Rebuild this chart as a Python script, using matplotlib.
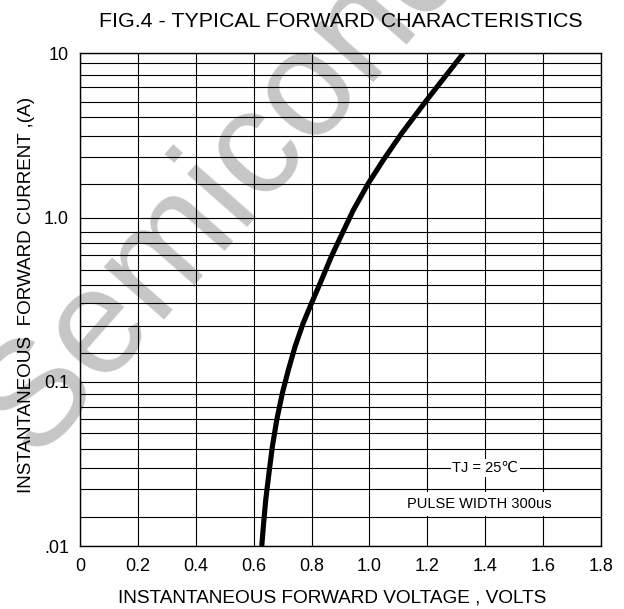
import numpy as np
import matplotlib
matplotlib.use("Agg")
import matplotlib.pyplot as plt
from matplotlib.ticker import NullFormatter

plt.rcParams['font.family'] = ['Liberation Sans', 'DejaVu Sans']

# forward voltage (V) vs instantaneous current (A)
vf = [0.628, 0.6334, 0.6417, 0.6528, 0.6645, 0.6797, 0.699, 0.7198, 0.7429, 0.7710,
      0.8020, 0.8345, 0.8680, 0.9035, 0.9444, 0.9962, 1.048, 1.1116, 1.198, 1.3245]
i_f = [0.010, 0.0131, 0.0191, 0.0277, 0.0402, 0.0585, 0.0851, 0.1179, 0.1635, 0.227,
       0.307, 0.4166, 0.577, 0.783, 1.11, 1.616, 2.24, 3.26, 5.19, 10.0]

x_ticks = [0, 0.2, 0.4, 0.6, 0.8, 1.0, 1.2, 1.4, 1.6, 1.8]
x_labels = ['0', '0.2', '0.4', '0.6', '0.8', '1.0', '1.2', '1.4', '1.6', '1.8']
y_ticks = [0.01, 0.1, 1, 10]
y_labels = ['.01', '0.1', '1.0', '10']
# the printed grid is not a true log grid, so keep its lines as drawn
y_grid = [0.0151, 0.0222, 0.0300, 0.0390, 0.0485, 0.0593, 0.0699, 0.0839,
          0.15, 0.22, 0.30, 0.39, 0.48, 0.59, 0.70, 0.82,
          1.59, 2.34, 3.13, 4.11, 5.07, 6.27, 7.38, 8.69]

fig = plt.figure(figsize=(6.24, 6.09), dpi=100)
ax = fig.add_axes([0.1282, 0.1034, 0.8349, 0.8091])
ax.set_facecolor('none')

# watermark behind the grid
fig.text(34 / 624, 1 - 459 / 609, 'Semiconductor', rotation=48.6,
         rotation_mode='anchor', ha='left', va='baseline',
         fontsize=108, color='#c6c6c6', zorder=-1)

ax.plot(vf, i_f, color='black', lw=3.7, solid_capstyle='butt',
        solid_joinstyle='round', zorder=5)

ax.set_yscale('log')
ax.set_xlim(0, 1.8)
ax.set_ylim(0.01, 10)
ax.set_xticks(x_ticks, x_labels)
ax.set_yticks(y_ticks, y_labels)
ax.set_yticks(y_grid, minor=True)
ax.yaxis.set_minor_formatter(NullFormatter())
ax.tick_params(which='both', length=0)
ax.tick_params(axis='x', labelsize=13, pad=8.5)
ax.tick_params(axis='y', labelsize=13, pad=8)
ax.grid(which='both', color='black', lw=0.8)
for s in ax.spines.values():
    s.set_linewidth(1.0)

ax.set_title('FIG.4 - TYPICAL FORWARD CHARACTERISTICS', fontsize=15.4, pad=19)
ax.set_xlabel('INSTANTANEOUS FORWARD VOLTAGE , VOLTS', fontsize=13.7)
ax.xaxis.set_label_coords(0.4837, -0.089)
ax.set_ylabel('INSTANTANEOUS  FORWARD CURRENT ,(A)', fontsize=13.6)
ax.yaxis.set_label_coords(-0.086, 0.509)

ax.text(1.4, 0.0299, 'TJ = 25\u2103', ha='center', va='center', fontsize=10.5,
        zorder=6, bbox=dict(facecolor='white', edgecolor='none', boxstyle='square,pad=0.12'))
ax.text(1.381, 0.018, 'PULSE WIDTH 300us', ha='center', va='center', fontsize=10.5,
        zorder=6, bbox=dict(facecolor='white', edgecolor='none', boxstyle='square,pad=0.35'))

fig.savefig('out.png', dpi=100)
